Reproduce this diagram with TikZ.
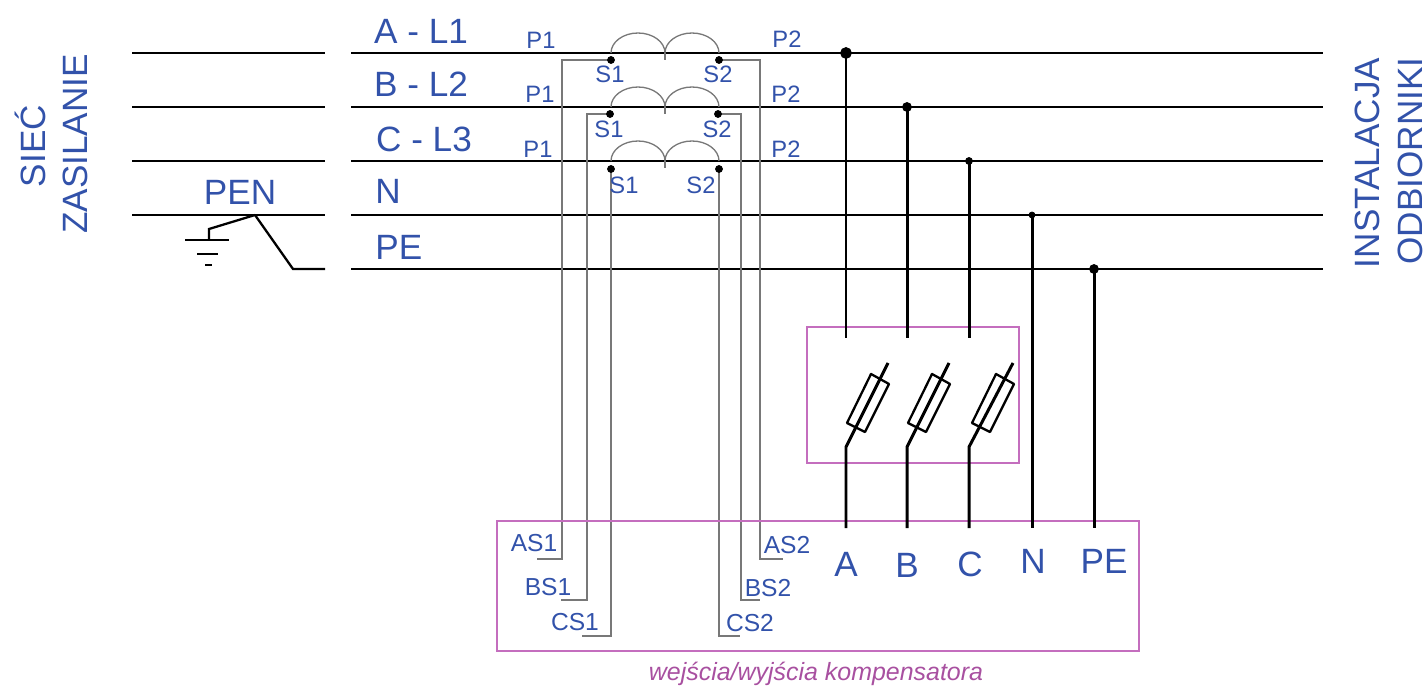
\documentclass[tikz,border=0pt]{standalone}
\usepackage{fontspec}
\setmainfont{Liberation Sans}
\definecolor{napis}{RGB}{50,82,170}
\definecolor{ramka}{RGB}{196,110,190}
\definecolor{opis}{RGB}{168,80,160}
\definecolor{zwoj}{RGB}{120,120,120}
\tikzset{
    szyna/.style={black, line width=1.7pt},
    ziemia/.style={black, line width=1.3pt},
    przewod/.style={zwoj, line width=0.75pt},
    obrys/.style={ramka, line width=0.75pt},
    bezpiecznik/.style={black, line width=1.3pt, line join=round},
    duzy/.style={napis, font=\fontsize{20}{22}\selectfont, inner sep=0pt},
    maly/.style={napis, font=\fontsize{13.5}{15}\selectfont, inner sep=0pt},
    sredni/.style={napis, font=\fontsize{14}{16}\selectfont, inner sep=0pt}
}
\begin{document}
\begin{tikzpicture}[x=0.02cm, y=-0.02cm]
            \useasboundingbox (0, 0) rectangle (1428, 689);
            \draw[szyna] (132, 53)--(325, 53);
            \draw[szyna] (132, 107)--(325, 107);
            \draw[szyna] (132, 161)--(325, 161);
            \draw[szyna] (132, 215)--(325, 215);
            \draw[szyna] (351, 53)--(1323, 53);
            \draw[szyna] (351, 107)--(1323, 107);
            \draw[szyna] (351, 161)--(1323, 161);
            \draw[szyna] (351, 215)--(1323, 215);
            \draw[szyna] (351, 269)--(1323, 269);
            \coordinate (pen) at (255, 215);
            \draw[ziemia] (pen)--(293, 269)--(325, 269);
            \draw[ziemia] (pen)--(209, 229)--(209, 240);
            \draw[ziemia] (185, 240)--(229, 240);
            \draw[ziemia] (197, 254)--(218, 254);
            \draw[ziemia] (205, 265)--(212, 265);
            \node[duzy] (labpen) at (240, 192) {PEN};
            \node[duzy] (labl1) at (421, 31) {A - L1};
            \node[duzy] (labl2) at (421, 84) {B - L2};
            \node[duzy] (labl3) at (424, 139) {C - L3};
            \node[duzy, anchor=west] (labn) at (375, 191) {N};
            \node[duzy, anchor=west] (labpe) at (375, 247) {PE};
            \node[duzy, rotate=90] (labsiec) at (30, 146) {SIEĆ};
            \node[duzy, rotate=90] (labzas) at (75, 144) {ZASILANIE};
            \node[duzy, rotate=90] (labinst) at (1367, 163) {INSTALACJA};
            \node[duzy, rotate=90] (labodb) at (1410, 161) {ODBIORNIKI};
            \draw[przewod] (611, 53) arc (180:360:27 and 20) arc (180:360:27 and 20);
            \draw[przewod] (665, 53)--(665, 60);
            \draw[przewod] (611, 107) arc (180:360:27 and 20) arc (180:360:27 and 20);
            \draw[przewod] (665, 107)--(665, 114);
            \draw[przewod] (611, 161) arc (180:360:27 and 20) arc (180:360:27 and 20);
            \draw[przewod] (665, 161)--(665, 168);
            \coordinate (as1) at (611, 60);
            \coordinate (as2) at (719, 60);
            \coordinate (bs1) at (610, 114);
            \coordinate (bs2) at (718, 114);
            \coordinate (cs1) at (611, 169);
            \coordinate (cs2) at (719, 169);
            \draw[przewod] (as1)--(562, 60)--(562, 559)--(537, 559);
            \draw[przewod] (as2)--(760, 60)--(760, 559)--(783, 559);
            \draw[przewod] (bs1)--(587, 114)--(587, 600)--(561, 600);
            \draw[przewod] (bs2)--(741, 114)--(741, 600)--(760, 600);
            \draw[przewod] (cs1)--(611, 636)--(582, 636);
            \draw[przewod] (cs2)--(719, 636)--(740, 636);
            \filldraw[black] (as1) circle (3.5);
            \filldraw[black] (as2) circle (3.5);
            \filldraw[black] (bs1) circle (3.5);
            \filldraw[black] (bs2) circle (3.5);
            \filldraw[black] (cs1) circle (3.5);
            \filldraw[black] (cs2) circle (3.5);
            \node[maly] (labp1a) at (541, 40) {P1};
            \node[maly] (labp1b) at (540, 94) {P1};
            \node[maly] (labp1c) at (538, 149) {P1};
            \node[maly] (labp2a) at (787, 39) {P2};
            \node[maly] (labp2b) at (786, 94) {P2};
            \node[maly] (labp2c) at (786, 149) {P2};
            \node[maly] (labs1a) at (610, 74) {S1};
            \node[maly] (labs1b) at (609, 129) {S1};
            \node[maly] (labs1c) at (624, 185) {S1};
            \node[maly] (labs2a) at (718, 74) {S2};
            \node[maly] (labs2b) at (717, 129) {S2};
            \node[maly] (labs2c) at (701, 185) {S2};
            \draw[obrys] (807, 327) rectangle (1019, 463);
            \draw[obrys] (497, 521) rectangle (1139, 651);
            \coordinate (wea) at (846, 53);
            \coordinate (web) at (907, 107);
            \coordinate (wec) at (969, 161);
            \coordinate (wen) at (1032, 215);
            \coordinate (wepe) at (1094, 269);
            \filldraw[black] (wea) circle (5.5);
            \filldraw[black] (web) circle (4.5);
            \filldraw[black] (wec) circle (3.5);
            \filldraw[black] (wen) circle (3);
            \filldraw[black] (wepe) circle (4.5);
            \draw[szyna] (wea)--(846, 338);
            \draw[szyna] (web)--(907, 338);
            \draw[szyna] (wec)--(969, 338);
            \draw[szyna] (wen)--(1032, 528);
            \draw[szyna] (wepe)--(1094, 528);
            \draw[szyna] (846, 528)--(846, 447)--(888, 363);
            \draw[szyna] (907, 528)--(907, 447)--(949, 363);
            \draw[szyna] (969, 528)--(969, 447)--(1013, 363);
            \draw[bezpiecznik] (871, 374)--(889, 384)--(865, 432)--(847, 423)--cycle;
            \draw[bezpiecznik] (932, 374)--(950, 384)--(926, 432)--(908, 423)--cycle;
            \draw[bezpiecznik] (996, 374)--(1014, 384)--(990, 432)--(972, 423)--cycle;
            \node[duzy] (laba) at (846, 564) {A};
            \node[duzy] (labb) at (907, 565) {B};
            \node[duzy] (labc) at (970, 564) {C};
            \node[duzy] (labnn) at (1033, 561) {N};
            \node[duzy] (labpp) at (1104, 561) {PE};
            \node[sredni] (labas1) at (534, 543) {AS1};
            \node[sredni] (labbs1) at (548, 587) {BS1};
            \node[sredni] (labcs1) at (575, 622) {CS1};
            \node[sredni] (labas2) at (787, 545) {AS2};
            \node[sredni] (labbs2) at (768, 588) {BS2};
            \node[sredni] (labcs2) at (750, 623) {CS2};
            \node[opis, font=\fontsize{14.2}{16}\selectfont\itshape, inner sep=0pt] (labkomp) at (816, 674) {wejścia/wyjścia kompensatora};
        \end{tikzpicture}
\end{document}
